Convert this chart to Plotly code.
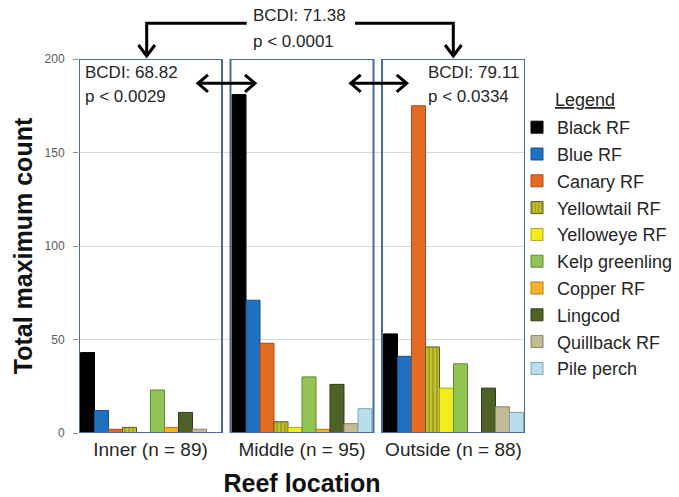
import plotly.graph_objects as go

W, H = 679, 497
ML, MR, MT, MB = 79, 154, 59, 64
PW, PH = W - ML - MR, H - MT - MB

locations = ["Inner (n = 89)", "Middle (n = 95)", "Outside (n = 88)"]
species = ["Black RF", "Blue RF", "Canary RF", "Yellowtail RF", "Yelloweye RF",
           "Kelp greenling", "Copper RF", "Lingcod", "Quillback RF", "Pile perch"]
inner = [43, 12, 2, 3, 0, 23, 3, 11, 2, 0]
middle = [181, 71, 48, 6, 3, 30, 2, 26, 5, 13]
outside = [53, 41, 175, 46, 24, 37, 0, 24, 14, 11]
colors = ["#000000", "#1f70c1", "#e46c22", "#c2c22c", "#f2ee1e",
          "#92c353", "#f5b324", "#4e6228", "#c4bc96", "#b9dde9"]
edges = ["#000000", "#1a4f8a", "#a84c14", "#5a5a10", "#b0a810",
         "#5f8a30", "#b07a10", "#2f3d15", "#8a8260", "#7aa6b5"]
y_ticks = [0, 50, 100, 150, 200]

def px(x):
    return (x - ML) / PW

def py(y):
    return 1 - (y - MT) / PH

fig = go.Figure()
xs = list(range(len(locations)))
for i, name in enumerate(species):
    vals = [inner[i], middle[i], outside[i]]
    marker = dict(color=colors[i], line=dict(color=edges[i], width=1))
    if name == "Yellowtail RF":
        marker["pattern"] = dict(shape="|", fgcolor="#5a5a10", bgcolor=colors[i],
                                 size=4, solidity=0.3)
    fig.add_trace(go.Bar(x=xs, y=vals, name=name, marker=marker,
                         legendgroup=name))

shapes = []
for i in xs:
    shapes.append(dict(type="rect", xref="x", yref="y", x0=i - 0.472, x1=i + 0.472,
                       y0=0, y1=200, line=dict(color="#4a6a9c", width=2),
                       fillcolor="rgba(0,0,0,0)", layer="above"))

def pline(points):
    d = "M " + " L ".join(f"{px(a):.5f},{py(b):.5f}" for a, b in points)
    return dict(type="path", xref="paper", yref="paper", path=d,
                line=dict(color="black", width=3))

shapes.append(pline([(146.7, 55), (146.7, 23.3), (246.7, 23.3)]))
shapes.append(pline([(355, 23.3), (453.3, 23.3), (453.3, 55)]))
shapes.append(pline([(138.5, 45), (146.7, 56), (154.9, 45)]))
shapes.append(pline([(445.1, 45), (453.3, 56), (461.5, 45)]))
for a, b in [(198, 255), (350.7, 406.7)]:
    yc = 83.3
    shapes.append(pline([(a + 1, yc), (b - 1, yc)]))
    shapes.append(pline([(a + 10, yc - 8.5), (a, yc), (a + 10, yc + 8.5)]))
    shapes.append(pline([(b - 10, yc - 8.5), (b, yc), (b - 10, yc + 8.5)]))

fnt = dict(family="Liberation Sans, Arial, sans-serif", size=17, color="#262626")
annots = []
def txt(x, y, s, anchor="left", **kw):
    d = dict(xref="paper", yref="paper", x=px(x), y=py(y), text=s, showarrow=False,
             xanchor=anchor, yanchor="middle", font=fnt)
    d.update(kw)
    annots.append(d)

txt(251, 16, "BCDI: 71.38")
txt(251, 41.7, "p < 0.0001")
txt(83, 72.7, "BCDI: 68.82")
txt(83, 96.7, "p < 0.0029")
txt(425.7, 72.7, "BCDI: 79.11")
txt(425.7, 96.7, "p < 0.0334")
txt(553, 100, "<u>Legend</u>", font=dict(family=fnt["family"], size=18, color="#262626"))

fig.update_layout(
    width=W, height=H,
    margin=dict(l=ML, r=MR, t=MT, b=MB, autoexpand=False),
    paper_bgcolor="white", plot_bgcolor="white",
    barmode="group", bargap=0.076, bargroupgap=0,
    font=dict(family="Liberation Sans, Arial, sans-serif", color="#262626"),
    shapes=shapes, annotations=annots,
    legend=dict(x=px(517), y=py(109), xanchor="left", yanchor="top",
                font=dict(size=18, color="#262626"), itemwidth=30,
                traceorder="grouped", tracegroupgap=0.4,
                bgcolor="rgba(0,0,0,0)"),
    xaxis=dict(range=[-0.472, 2.472], tickvals=xs, ticktext=locations,
               ticks="", showgrid=False, zeroline=False, showline=False,
               automargin=False,
               tickfont=dict(size=19, color="#262626"), ticklabelstandoff=3,
               title=dict(text="<b>Reef location</b>", font=dict(size=25, color="#111111"),
                          standoff=26)),
    yaxis=dict(range=[0, 200], tickvals=y_ticks, showgrid=True, gridcolor="#d9d9d9",
               gridwidth=1, zeroline=False, showline=False, ticks="outside",
               automargin=False,
               ticklen=5, tickcolor="#8c8c8c", ticklabelstandoff=6,
               tickfont=dict(size=12, color="#595959"),
               title=dict(text="<b>Total maximum count</b>", font=dict(size=25, color="#111111"),
                          standoff=4)),
)
fig.write_html("out.html", config={"displayModeBar": False},
               post_script="document.body.style.margin='0';")
